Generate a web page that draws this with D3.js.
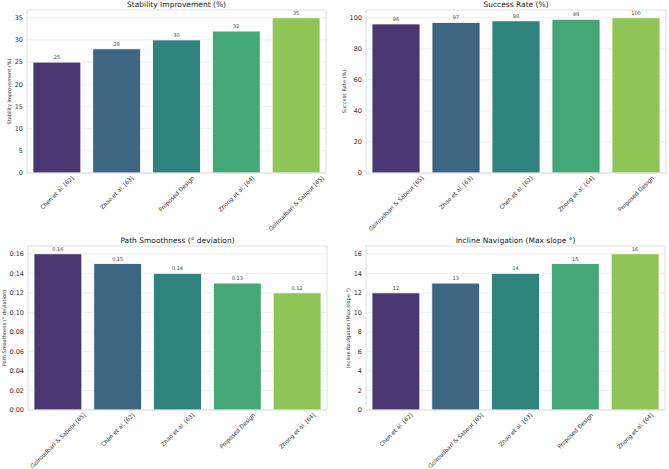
<!DOCTYPE html>
<html>
<head>
    <meta charset="utf-8">
    <script src="https://d3js.org/d3.v7.min.js"></script>
    <style>
        body { margin: 0; background: #fff; font-family: "DejaVu Sans", sans-serif; }
        .grid line { stroke: #ebebeb; stroke-width: 0.8px; }
        .tick-y, .tick-x { fill: #333; }
        .value { fill: #444; }
    </style>
</head>
<body>
    <script>
        // chart values
        const stabilityCats = ["Chen et al. [62]", "Zhao et al. [63]", "Proposed Design", "Zhong et al. [64]", "Golroudbari & Sabour [65]"];
        const stabilityVals = [25, 28, 30, 32, 35];
        const stabilityTicks = [0, 5, 10, 15, 20, 25, 30, 35];

        const successCats = ["Golroudbari & Sabour [65]", "Zhao et al. [63]", "Chen et al. [62]", "Zhong et al. [64]", "Proposed Design"];
        const successVals = [96, 97, 98, 99, 100];
        const successTicks = [0, 20, 40, 60, 80, 100];

        const smoothCats = ["Golroudbari & Sabour [65]", "Chen et al. [62]", "Zhao et al. [63]", "Proposed Design", "Zhong et al. [64]"];
        const smoothVals = [0.16, 0.15, 0.14, 0.13, 0.12];
        const smoothTicks = [0, 0.02, 0.04, 0.06, 0.08, 0.10, 0.12, 0.14, 0.16];

        const inclineCats = ["Chen et al. [62]", "Golroudbari & Sabour [65]", "Zhao et al. [63]", "Proposed Design", "Zhong et al. [64]"];
        const inclineVals = [12, 13, 14, 15, 16];
        const inclineTicks = [0, 2, 4, 6, 8, 10, 12, 14, 16];

        // seaborn viridis, desaturated to 0.75
        const palette = ["#4a3771", "#3d6682", "#2f837f", "#45a778", "#8fc556"];

        const width = 669, height = 469;
        const svg = d3.select("body").append("svg")
            .attr("width", width)
            .attr("height", height);

        const panels = [
            { title: "Stability Improvement (%)", ylabel: "Stability Improvement (%)", cats: stabilityCats, vals: stabilityVals, ticks: stabilityTicks, fmt: d3.format("d"), vfmt: d3.format("d"), x0: 27, x1: 326, y0: 10, y1: 173 },
            { title: "Success Rate (%)", ylabel: "Success Rate (%)", cats: successCats, vals: successVals, ticks: successTicks, fmt: d3.format("d"), vfmt: d3.format("d"), x0: 366, x1: 666, y0: 10, y1: 173 },
            { title: "Path Smoothness (° deviation)", ylabel: "Path Smoothness (° deviation)", cats: smoothCats, vals: smoothVals, ticks: smoothTicks, fmt: d3.format(".2f"), vfmt: d3.format(".2f"), x0: 28, x1: 327, y0: 246, y1: 410 },
            { title: "Incline Navigation (Max slope °)", ylabel: "Incline Navigation (Max slope °)", cats: inclineCats, vals: inclineVals, ticks: inclineTicks, fmt: d3.format("d"), vfmt: d3.format("d"), x0: 366, x1: 665, y0: 246, y1: 410 }
        ];

        panels.forEach(p => {
            const g = svg.append("g");

            const x = d3.scaleBand()
                .domain(p.cats)
                .range([p.x0, p.x1])
                .paddingInner(0.2)
                .paddingOuter(0.1);

            const y = d3.scaleLinear()
                .domain([0, d3.max(p.vals) * 1.05])
                .range([p.y1, p.y0]);

            // horizontal grid
            g.append("g").attr("class", "grid")
                .selectAll("line")
                .data(p.ticks)
                .join("line")
                .attr("x1", p.x0).attr("x2", p.x1)
                .attr("y1", d => y(d)).attr("y2", d => y(d));

            // bars
            g.append("g").selectAll("rect")
                .data(p.cats)
                .join("rect")
                .attr("x", d => x(d))
                .attr("y", (d, i) => y(p.vals[i]))
                .attr("width", x.bandwidth())
                .attr("height", (d, i) => y(0) - y(p.vals[i]))
                .attr("fill", (d, i) => palette[i])
                .attr("stroke", "#fff")
                .attr("stroke-width", 0.8);

            // value labels
            g.append("g").selectAll("text")
                .data(p.cats)
                .join("text")
                .attr("class", "value")
                .attr("x", d => x(d) + x.bandwidth() / 2)
                .attr("y", (d, i) => y(p.vals[i]) - 3)
                .attr("text-anchor", "middle")
                .style("font-size", "5px")
                .text((d, i) => p.vfmt(p.vals[i]));

            // frame
            g.append("rect")
                .attr("x", p.x0).attr("y", p.y0)
                .attr("width", p.x1 - p.x0).attr("height", p.y1 - p.y0)
                .attr("fill", "none")
                .attr("stroke", "#d6d6d6")
                .attr("stroke-width", 0.8);

            // y tick labels
            const yt = g.append("g").selectAll("text")
                .data(p.ticks)
                .join("text")
                .attr("class", "tick-y")
                .attr("x", p.x0 - 4)
                .attr("y", d => y(d))
                .attr("dy", "0.35em")
                .attr("text-anchor", "end")
                .style("font-size", "6.5px")
                .text(d => p.fmt(d));

            let maxW = 0;
            yt.each(function () { maxW = Math.max(maxW, this.getComputedTextLength()); });

            // y label
            const cy = (p.y0 + p.y1) / 2;
            const lx = p.x0 - 4 - maxW - 5;
            g.append("text")
                .attr("transform", `translate(${lx},${cy}) rotate(-90)`)
                .attr("text-anchor", "middle")
                .attr("dy", "0.35em")
                .style("font-size", "5px")
                .style("fill", "#333")
                .text(p.ylabel);

            // x tick labels, rotated 45 with bbox centred on the tick
            g.append("g").selectAll("text")
                .data(p.cats)
                .join("text")
                .attr("class", "tick-x")
                .attr("text-anchor", "middle")
                .attr("dy", "0.35em")
                .style("font-size", "5.7px")
                .text(d => d)
                .attr("transform", function (d) {
                    const L = this.getComputedTextLength();
                    const h = 5.7;
                    const half = (L + h) * Math.SQRT1_2 / 2;
                    return `translate(${x(d) + x.bandwidth() / 2},${p.y1 + 2 + half}) rotate(-45)`;
                });

            // title
            g.append("text")
                .attr("x", (p.x0 + p.x1) / 2)
                .attr("y", p.y0 - 3)
                .attr("text-anchor", "middle")
                .style("font-size", "7.5px")
                .style("fill", "#222")
                .text(p.title);
        });
    </script>
</body>
</html>
